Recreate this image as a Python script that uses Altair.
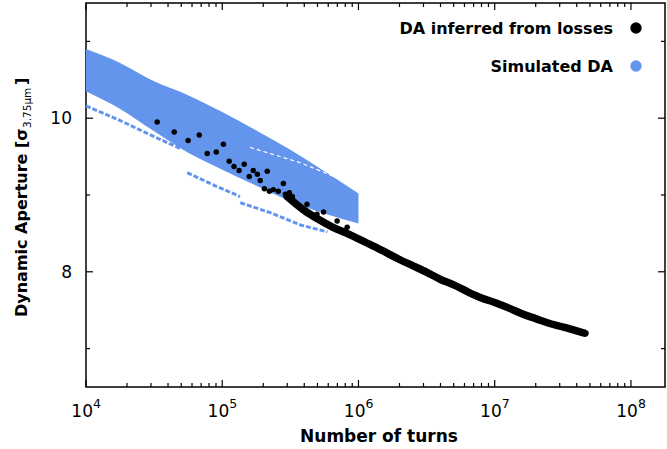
import altair as alt
import pandas as pd

# ---------------- data ----------------
# Simulated DA: envelope of the dense cloud
band_turns = [1e4, 1.78e4, 3.16e4, 5.62e4, 1e5, 1.78e5, 3.16e5, 5.62e5, 1e6]
band_upper = [10.90, 10.72, 10.48, 10.30, 10.08, 9.84, 9.59, 9.31, 9.02]
band_lower = [10.35, 10.12, 9.83, 9.55, 9.33, 9.12, 8.92, 8.76, 8.63]

# Simulated DA: isolated lower curves
low1_turns = [1e4, 1.78e4, 3.16e4, 5.0e4]
low1_da = [10.16, 9.97, 9.76, 9.60]
low2_turns = [5.53e4, 8.89e4, 1.35e5]
low2_da = [9.29, 9.12, 8.98]
low3_turns = [1.355e5, 2.25e5, 3.75e5, 5.92e5]
low3_da = [8.90, 8.77, 8.61, 8.52]

# thin white gap visible inside the cloud
gap_turns = [1.6e5, 3.75e5, 8.0e5]
gap_da = [9.62, 9.42, 9.18]

# DA inferred from losses: isolated points
loss_pts_turns = [3.33e4, 4.44e4, 5.62e4, 6.78e4, 7.76e4, 9.04e4, 1.02e5, 1.125e5,
                  1.22e5, 1.33e5, 1.45e5, 1.58e5, 1.69e5, 1.81e5, 1.90e5, 2.14e5,
                  2.04e5, 2.22e5, 2.37e5, 2.58e5, 2.81e5, 2.91e5, 3.11e5, 3.27e5,
                  4.19e5, 4.96e5, 5.54e5, 6.97e5, 8.26e5]
loss_pts_da = [9.95, 9.82, 9.71, 9.78, 9.54, 9.56, 9.66, 9.44,
               9.37, 9.32, 9.40, 9.24, 9.32, 9.27, 9.19, 9.31,
               9.08, 9.05, 9.07, 9.05, 9.15, 9.01, 9.03, 8.98,
               8.88, 8.75, 8.78, 8.66, 8.58]

# DA inferred from losses: dense continuous part
loss_turns = [3.0e5, 4.0e5, 5.0e5, 6.5e5, 8.0e5, 1.0e6, 1.3e6, 1.6e6, 2.0e6, 2.5e6,
              3.2e6, 4.0e6, 5.0e6, 6.5e6, 8.0e6, 1.0e7, 1.3e7, 1.6e7, 2.0e7, 2.5e7,
              3.2e7, 4.0e7, 4.6e7]
loss_da = [8.98, 8.80, 8.69, 8.58, 8.51, 8.43, 8.33, 8.25, 8.16, 8.08,
           7.99, 7.90, 7.83, 7.73, 7.66, 7.60, 7.52, 7.45, 7.39, 7.33,
           7.28, 7.23, 7.20]

# axes
x_major = [1e4, 1e5, 1e6, 1e7, 1e8]
x_exponents = ["4", "5", "6", "7", "8"]
x_minor_mult = [2, 3, 4, 5, 6, 7, 8, 9]
y_major = [8, 10]
y_major_labels = ["8", "10"]
y_minor = [7, 9, 11]

legend_labels = ["DA inferred from losses", "Simulated DA"]
legend_colors = ["#000000", "#6495ED"]

# ---------------- layout ----------------
W, H = 579, 384
X_DOM = [1e4, 10 ** 8.25]
Y_DOM = [6.5, 11.5]
BLUE = "#6495ED"
FONT = "DejaVu Sans"

xs = alt.Scale(type="log", domain=X_DOM, nice=False)
ys = alt.Scale(domain=Y_DOM, nice=False, zero=False)

band = pd.DataFrame({"turns": band_turns, "up": band_upper, "lo": band_lower})
area = alt.Chart(band).mark_area(color=BLUE, opacity=1, interpolate="monotone").encode(
    x=alt.X("turns:Q", scale=xs, axis=None),
    y=alt.Y("up:Q", scale=ys, axis=None),
    y2="lo:Q",
)

layers = [area]
gap = pd.DataFrame({"turns": gap_turns, "da": gap_da})
layers.append(
    alt.Chart(gap).mark_line(color="white", strokeWidth=1.2, strokeDash=[4, 3]).encode(
        x=alt.X("turns:Q", scale=xs), y=alt.Y("da:Q", scale=ys)
    )
)
for t, d in [(low1_turns, low1_da), (low2_turns, low2_da), (low3_turns, low3_da)]:
    df = pd.DataFrame({"turns": t, "da": d})
    layers.append(
        alt.Chart(df).mark_line(color=BLUE, strokeWidth=3, strokeDash=[5, 2]).encode(
            x=alt.X("turns:Q", scale=xs), y=alt.Y("da:Q", scale=ys)
        )
    )

dense = pd.DataFrame({"turns": loss_turns, "da": loss_da})
layers.append(
    alt.Chart(dense).mark_line(color="black", strokeWidth=7.5, strokeCap="round",
                               strokeJoin="round", interpolate="monotone").encode(
        x=alt.X("turns:Q", scale=xs), y=alt.Y("da:Q", scale=ys)
    )
)
pts = pd.DataFrame({"turns": loss_pts_turns, "da": loss_pts_da})
layers.append(
    alt.Chart(pts).mark_circle(color="black", size=30, opacity=1).encode(
        x=alt.X("turns:Q", scale=xs), y=alt.Y("da:Q", scale=ys)
    )
)

# ticks (inward, mirrored)
x_minor = [m * d for d in x_major for m in x_minor_mult if m * d <= X_DOM[1]]
xmaj = pd.DataFrame({"v": x_major, "e": x_exponents})
xmin = pd.DataFrame({"v": x_minor})
ymaj = pd.DataFrame({"v": y_major, "lab": y_major_labels})
ymin = pd.DataFrame({"v": y_minor})

for df, ln in [(xmaj, 7), (xmin, 4)]:
    layers.append(alt.Chart(df).mark_rule(color="black", strokeWidth=1.2).encode(
        x=alt.X("v:Q", scale=xs), y=alt.value(H), y2=alt.value(H - ln)))
    layers.append(alt.Chart(df).mark_rule(color="black", strokeWidth=1.2).encode(
        x=alt.X("v:Q", scale=xs), y=alt.value(0), y2=alt.value(ln)))
for df, ln in [(ymaj, 7), (ymin, 4)]:
    layers.append(alt.Chart(df).mark_rule(color="black", strokeWidth=1.2).encode(
        y=alt.Y("v:Q", scale=ys), x=alt.value(0), x2=alt.value(ln)))
    layers.append(alt.Chart(df).mark_rule(color="black", strokeWidth=1.2).encode(
        y=alt.Y("v:Q", scale=ys), x=alt.value(W), x2=alt.value(W - ln)))

# tick labels
layers.append(alt.Chart(xmaj).mark_text(font=FONT, fontSize=17, align="right",
                                        baseline="alphabetic", dx=7, color="black").encode(
    x=alt.X("v:Q", scale=xs), y=alt.value(414), text=alt.value("10")))
layers.append(alt.Chart(xmaj).mark_text(font=FONT, fontSize=12.5, align="left",
                                        baseline="alphabetic", dx=7, color="black").encode(
    x=alt.X("v:Q", scale=xs), y=alt.value(405), text="e:N"))
layers.append(alt.Chart(ymaj).mark_text(font=FONT, fontSize=17, align="right",
                                        baseline="alphabetic", dy=6, color="black").encode(
    y=alt.Y("v:Q", scale=ys), x=alt.value(-14), text="lab:N"))

# axis titles
one = pd.DataFrame({"a": [0]})
layers.append(alt.Chart(one).mark_text(font=FONT, fontSize=17, fontWeight="bold",
                                       align="center", baseline="alphabetic").encode(
    x=alt.value(293), y=alt.value(439), text=alt.value("Number of turns")))
layers.append(alt.Chart(one).mark_text(font=FONT, fontSize=16, fontWeight="bold", angle=270,
                                       align="left", baseline="alphabetic").encode(
    x=alt.value(27 - 86), y=alt.value(317 - 3), text=alt.value("Dynamic Aperture [σ")))
layers.append(alt.Chart(one).mark_text(font=FONT, fontSize=10.5, angle=270,
                                       align="left", baseline="alphabetic").encode(
    x=alt.value(31 - 86), y=alt.value(128 - 3), text=alt.value("3.75μm")))
layers.append(alt.Chart(one).mark_text(font=FONT, fontSize=16, fontWeight="bold", angle=270,
                                       align="left", baseline="alphabetic").encode(
    x=alt.value(27 - 86), y=alt.value(85 - 3), text=alt.value("]")))

# legend
for i, (lab, col) in enumerate(zip(legend_labels, legend_colors)):
    yy = [25, 63][i]
    layers.append(alt.Chart(one).mark_text(font=FONT, fontSize=16, fontWeight="bold",
                                           align="right", baseline="alphabetic").encode(
        x=alt.value(527), y=alt.value(yy + 5.5), text=alt.value(lab)))
    layers.append(alt.Chart(one).mark_circle(color=col, size=130, opacity=1).encode(
        x=alt.value(550), y=alt.value(yy)))

chart = alt.layer(*layers).properties(
    width=W, height=H,
    padding={"left": 86, "top": 3, "right": 2, "bottom": 62},
    autosize=alt.AutoSizeParams(type="none"),
    background="white",
).configure_view(stroke="black", strokeWidth=1.5)

chart.save("out.html", embed_options={"renderer": "svg", "actions": False})
